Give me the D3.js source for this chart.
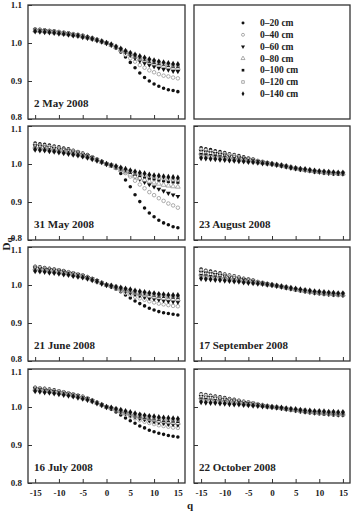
<!DOCTYPE html>
<html>
<head>
<meta charset="utf-8">
<script src="https://cdn.jsdelivr.net/npm/d3@7"></script>
<style>
body { margin: 0; background: #fff; }
svg text { font-family: "Liberation Serif", "Times New Roman", serif; font-weight: bold; fill: #222; }
</style>
</head>
<body>
<script>
// q values (x axis) and depth classes
const qValues = [-15,-14,-13,-12,-11,-10,-9,-8,-7,-6,-5,-4,-3,-2,-1,0,1,2,3,4,5,6,7,8,9,10,11,12,13,14,15];
const depths = ["0\u201320 cm","0\u201340 cm","0\u201360 cm","0\u201380 cm","0\u2013100 cm","0\u2013120 cm","0\u2013140 cm"];
const xTicks = [-15,-10,-5,0,5,10,15];
const yTicks = [0.8,0.9,1.0,1.1];

// Dq values, one row per depth
const may2 = [
  [1.037,1.036,1.035,1.033,1.032,1.030,1.028,1.027,1.024,1.022,1.020,1.017,1.013,1.009,1.004,1.000,0.996,0.987,0.976,0.963,0.949,0.935,0.921,0.909,0.900,0.892,0.886,0.881,0.877,0.875,0.872],
  [1.035,1.034,1.033,1.032,1.030,1.029,1.027,1.025,1.023,1.021,1.019,1.016,1.012,1.008,1.004,1.000,0.994,0.987,0.979,0.969,0.960,0.951,0.942,0.935,0.928,0.923,0.918,0.914,0.912,0.909,0.907],
  [1.034,1.033,1.032,1.031,1.029,1.028,1.026,1.024,1.022,1.020,1.018,1.015,1.012,1.008,1.004,1.000,0.995,0.989,0.983,0.975,0.968,0.960,0.953,0.947,0.942,0.938,0.934,0.931,0.929,0.926,0.925],
  [1.033,1.032,1.031,1.030,1.028,1.027,1.025,1.024,1.022,1.020,1.017,1.015,1.012,1.008,1.004,1.000,0.995,0.989,0.982,0.976,0.970,0.964,0.958,0.954,0.949,0.946,0.943,0.940,0.937,0.935,0.934],
  [1.033,1.032,1.031,1.030,1.028,1.027,1.025,1.024,1.022,1.020,1.017,1.015,1.012,1.008,1.004,1.000,0.995,0.989,0.983,0.977,0.971,0.966,0.961,0.957,0.952,0.949,0.946,0.944,0.941,0.939,0.938],
  [1.032,1.031,1.030,1.029,1.028,1.026,1.025,1.023,1.021,1.019,1.017,1.014,1.011,1.008,1.004,1.000,0.995,0.990,0.984,0.978,0.973,0.968,0.963,0.959,0.955,0.952,0.949,0.946,0.944,0.942,0.941],
  [1.031,1.030,1.029,1.028,1.027,1.025,1.024,1.022,1.020,1.019,1.016,1.014,1.011,1.007,1.004,1.000,0.996,0.990,0.985,0.979,0.974,0.969,0.965,0.961,0.957,0.954,0.951,0.949,0.947,0.945,0.944]
];
const may31 = [
  [1.055,1.053,1.052,1.050,1.047,1.045,1.042,1.040,1.036,1.033,1.029,1.025,1.019,1.013,1.007,1.000,0.997,0.988,0.975,0.958,0.940,0.919,0.901,0.884,0.871,0.861,0.852,0.845,0.840,0.835,0.832],
  [1.051,1.049,1.048,1.046,1.044,1.042,1.039,1.037,1.034,1.031,1.027,1.023,1.018,1.012,1.006,1.000,0.997,0.991,0.984,0.976,0.967,0.956,0.946,0.936,0.926,0.918,0.910,0.903,0.896,0.891,0.885],
  [1.048,1.047,1.045,1.043,1.041,1.039,1.037,1.035,1.032,1.029,1.025,1.022,1.017,1.012,1.006,1.000,0.997,0.993,0.988,0.982,0.975,0.968,0.960,0.952,0.946,0.940,0.934,0.929,0.923,0.919,0.915],
  [1.045,1.044,1.042,1.041,1.039,1.037,1.035,1.032,1.030,1.027,1.024,1.020,1.016,1.011,1.005,1.000,0.995,0.990,0.984,0.978,0.972,0.967,0.962,0.958,0.954,0.951,0.948,0.945,0.943,0.941,0.940],
  [1.042,1.041,1.039,1.038,1.036,1.034,1.032,1.030,1.028,1.025,1.022,1.019,1.015,1.010,1.005,1.000,0.996,0.992,0.987,0.982,0.978,0.974,0.970,0.966,0.963,0.961,0.958,0.956,0.954,0.953,0.952],
  [1.040,1.039,1.038,1.036,1.034,1.033,1.031,1.029,1.026,1.024,1.021,1.018,1.014,1.010,1.005,1.000,0.997,0.993,0.989,0.984,0.981,0.977,0.974,0.971,0.968,0.966,0.963,0.962,0.960,0.959,0.958],
  [1.038,1.037,1.036,1.034,1.033,1.031,1.029,1.027,1.025,1.023,1.020,1.017,1.013,1.009,1.005,1.000,0.997,0.994,0.990,0.987,0.983,0.980,0.977,0.975,0.972,0.970,0.969,0.967,0.966,0.965,0.964]
];
const jun21 = [
  [1.049,1.048,1.046,1.044,1.042,1.040,1.038,1.035,1.032,1.029,1.026,1.022,1.017,1.012,1.006,1.000,0.995,0.989,0.982,0.974,0.966,0.958,0.951,0.945,0.939,0.934,0.930,0.927,0.925,0.923,0.921],
  [1.047,1.046,1.044,1.042,1.040,1.039,1.036,1.034,1.031,1.028,1.025,1.021,1.016,1.011,1.006,1.000,0.996,0.990,0.985,0.979,0.974,0.969,0.965,0.961,0.957,0.954,0.951,0.949,0.947,0.945,0.944],
  [1.045,1.044,1.042,1.041,1.039,1.037,1.035,1.032,1.030,1.027,1.024,1.020,1.016,1.011,1.005,1.000,0.996,0.992,0.988,0.983,0.979,0.975,0.972,0.968,0.965,0.963,0.961,0.959,0.957,0.956,0.955],
  [1.043,1.042,1.040,1.039,1.037,1.035,1.033,1.031,1.028,1.026,1.023,1.019,1.015,1.010,1.005,1.000,0.997,0.994,0.990,0.986,0.983,0.979,0.976,0.973,0.971,0.969,0.967,0.965,0.964,0.963,0.962],
  [1.041,1.040,1.039,1.037,1.035,1.034,1.032,1.030,1.027,1.025,1.022,1.018,1.014,1.010,1.005,1.000,0.997,0.994,0.991,0.988,0.985,0.982,0.979,0.977,0.975,0.973,0.971,0.970,0.969,0.968,0.967],
  [1.039,1.038,1.037,1.035,1.034,1.032,1.030,1.028,1.026,1.023,1.021,1.018,1.014,1.009,1.005,1.000,0.998,0.995,0.992,0.989,0.986,0.983,0.981,0.979,0.977,0.975,0.974,0.973,0.971,0.971,0.970],
  [1.037,1.036,1.035,1.033,1.032,1.030,1.028,1.027,1.024,1.022,1.020,1.017,1.013,1.009,1.004,1.000,0.998,0.995,0.993,0.990,0.988,0.985,0.983,0.981,0.979,0.978,0.976,0.975,0.974,0.973,0.973]
];
const jul16 = [
  [1.052,1.050,1.049,1.047,1.045,1.043,1.040,1.037,1.034,1.031,1.028,1.023,1.018,1.012,1.006,1.000,0.994,0.987,0.979,0.971,0.964,0.957,0.950,0.945,0.939,0.935,0.931,0.928,0.925,0.923,0.921],
  [1.050,1.049,1.047,1.045,1.043,1.041,1.039,1.036,1.033,1.030,1.027,1.023,1.018,1.012,1.006,1.000,0.996,0.991,0.985,0.980,0.975,0.970,0.965,0.961,0.958,0.955,0.952,0.950,0.948,0.946,0.945],
  [1.048,1.047,1.045,1.043,1.041,1.039,1.037,1.035,1.032,1.029,1.025,1.022,1.017,1.012,1.006,1.000,0.996,0.992,0.987,0.983,0.978,0.974,0.970,0.967,0.964,0.961,0.959,0.957,0.955,0.954,0.953],
  [1.047,1.046,1.044,1.042,1.040,1.039,1.036,1.034,1.031,1.028,1.025,1.021,1.016,1.011,1.006,1.000,0.997,0.993,0.989,0.984,0.981,0.977,0.974,0.971,0.968,0.966,0.963,0.962,0.960,0.959,0.958],
  [1.046,1.045,1.043,1.041,1.040,1.038,1.035,1.033,1.030,1.028,1.024,1.021,1.016,1.011,1.006,1.000,0.997,0.994,0.990,0.986,0.983,0.979,0.976,0.973,0.971,0.969,0.967,0.965,0.964,0.963,0.962],
  [1.044,1.043,1.041,1.040,1.038,1.036,1.034,1.032,1.029,1.026,1.023,1.020,1.015,1.011,1.005,1.000,0.997,0.994,0.991,0.987,0.984,0.981,0.979,0.976,0.974,0.972,0.970,0.969,0.968,0.967,0.966],
  [1.042,1.041,1.039,1.038,1.036,1.034,1.032,1.030,1.028,1.025,1.022,1.019,1.015,1.010,1.005,1.000,0.998,0.995,0.992,0.989,0.986,0.983,0.980,0.978,0.976,0.975,0.973,0.972,0.971,0.970,0.969]
];
const aug23 = [
  [1.043,1.040,1.038,1.035,1.033,1.030,1.027,1.025,1.022,1.019,1.016,1.013,1.009,1.006,1.003,1.000,0.998,0.995,0.993,0.990,0.988,0.985,0.983,0.981,0.979,0.978,0.976,0.975,0.974,0.973,0.973],
  [1.038,1.036,1.033,1.031,1.029,1.027,1.024,1.022,1.019,1.016,1.014,1.011,1.008,1.006,1.003,1.000,0.998,0.996,0.993,0.990,0.988,0.986,0.984,0.982,0.980,0.979,0.977,0.976,0.975,0.975,0.974],
  [1.034,1.032,1.030,1.028,1.026,1.024,1.021,1.019,1.017,1.015,1.013,1.010,1.007,1.005,1.002,1.000,0.998,0.996,0.993,0.990,0.988,0.986,0.984,0.982,0.980,0.979,0.977,0.976,0.975,0.975,0.974],
  [1.029,1.027,1.026,1.024,1.022,1.020,1.018,1.017,1.015,1.012,1.011,1.009,1.006,1.004,1.002,1.000,0.998,0.996,0.993,0.991,0.988,0.986,0.984,0.982,0.981,0.979,0.978,0.977,0.976,0.975,0.975],
  [1.025,1.024,1.022,1.021,1.019,1.018,1.016,1.014,1.013,1.011,1.009,1.008,1.006,1.004,1.002,1.000,0.998,0.996,0.994,0.991,0.989,0.987,0.985,0.983,0.982,0.980,0.979,0.978,0.977,0.976,0.976],
  [1.020,1.019,1.018,1.016,1.015,1.014,1.013,1.011,1.010,1.009,1.007,1.006,1.004,1.003,1.001,1.000,0.998,0.996,0.994,0.991,0.989,0.987,0.985,0.983,0.982,0.980,0.979,0.978,0.977,0.976,0.976],
  [1.016,1.015,1.014,1.013,1.012,1.011,1.010,1.009,1.008,1.007,1.006,1.005,1.004,1.002,1.001,1.000,0.998,0.996,0.994,0.991,0.989,0.987,0.986,0.984,0.982,0.981,0.980,0.979,0.978,0.977,0.977]
];
const sep17 = [
  [1.042,1.039,1.037,1.034,1.032,1.029,1.026,1.024,1.021,1.018,1.016,1.013,1.009,1.006,1.003,1.000,0.998,0.995,0.992,0.990,0.987,0.985,0.982,0.980,0.978,0.977,0.976,0.975,0.973,0.973,0.972],
  [1.038,1.036,1.033,1.031,1.029,1.027,1.024,1.022,1.019,1.016,1.014,1.011,1.008,1.006,1.003,1.000,0.998,0.995,0.993,0.990,0.988,0.985,0.983,0.981,0.979,0.978,0.976,0.975,0.974,0.973,0.973],
  [1.034,1.032,1.030,1.028,1.026,1.024,1.021,1.019,1.017,1.015,1.013,1.010,1.007,1.005,1.002,1.000,0.998,0.996,0.993,0.990,0.988,0.986,0.984,0.982,0.980,0.979,0.977,0.976,0.975,0.975,0.974],
  [1.029,1.027,1.026,1.024,1.022,1.020,1.018,1.017,1.015,1.012,1.011,1.009,1.006,1.004,1.002,1.000,0.998,0.996,0.993,0.991,0.988,0.986,0.984,0.982,0.981,0.979,0.978,0.977,0.976,0.975,0.975],
  [1.025,1.024,1.022,1.021,1.019,1.018,1.016,1.014,1.013,1.011,1.009,1.008,1.006,1.004,1.002,1.000,0.998,0.996,0.994,0.991,0.989,0.987,0.985,0.983,0.982,0.980,0.979,0.978,0.977,0.976,0.976],
  [1.021,1.020,1.018,1.017,1.016,1.015,1.013,1.012,1.011,1.009,1.008,1.006,1.005,1.003,1.001,1.000,0.998,0.996,0.994,0.991,0.989,0.987,0.986,0.984,0.982,0.981,0.980,0.979,0.978,0.977,0.977],
  [1.017,1.016,1.015,1.014,1.013,1.012,1.011,1.010,1.009,1.007,1.006,1.005,1.004,1.003,1.001,1.000,0.998,0.996,0.994,0.992,0.990,0.988,0.986,0.985,0.983,0.982,0.981,0.980,0.979,0.978,0.978]
];
const oct22 = [
  [1.035,1.033,1.031,1.029,1.027,1.025,1.022,1.020,1.018,1.015,1.013,1.011,1.008,1.005,1.002,1.000,0.998,0.996,0.994,0.992,0.990,0.988,0.986,0.985,0.983,0.982,0.981,0.980,0.979,0.978,0.978],
  [1.032,1.030,1.028,1.026,1.024,1.022,1.020,1.018,1.016,1.014,1.012,1.010,1.007,1.005,1.002,1.000,0.998,0.996,0.994,0.992,0.990,0.988,0.987,0.985,0.984,0.983,0.982,0.981,0.980,0.979,0.979],
  [1.028,1.026,1.025,1.023,1.021,1.020,1.018,1.016,1.014,1.012,1.010,1.008,1.006,1.004,1.002,1.000,0.998,0.997,0.995,0.993,0.991,0.989,0.987,0.986,0.985,0.984,0.983,0.982,0.981,0.980,0.980],
  [1.025,1.024,1.022,1.021,1.019,1.018,1.016,1.014,1.013,1.011,1.009,1.008,1.006,1.004,1.002,1.000,0.999,0.997,0.995,0.993,0.992,0.990,0.989,0.987,0.986,0.985,0.984,0.984,0.983,0.982,0.982],
  [1.021,1.020,1.018,1.017,1.016,1.015,1.013,1.012,1.011,1.009,1.008,1.006,1.005,1.003,1.001,1.000,0.999,0.997,0.995,0.994,0.992,0.991,0.989,0.988,0.987,0.986,0.985,0.985,0.984,0.983,0.983],
  [1.017,1.016,1.015,1.014,1.013,1.012,1.011,1.010,1.009,1.007,1.006,1.005,1.004,1.003,1.001,1.000,0.999,0.997,0.996,0.994,0.993,0.992,0.991,0.989,0.988,0.988,0.987,0.986,0.986,0.985,0.985],
  [1.013,1.012,1.011,1.011,1.010,1.009,1.008,1.007,1.007,1.006,1.005,1.004,1.003,1.002,1.001,1.000,0.999,0.998,0.996,0.995,0.994,0.992,0.991,0.990,0.989,0.989,0.988,0.987,0.987,0.986,0.986]
];

const panels = [
  {label: "2 May 2008", col: 0, row: 0, data: may2},
  {label: "31 May 2008", col: 0, row: 1, data: may31},
  {label: "21 June 2008", col: 0, row: 2, data: jun21},
  {label: "16 July 2008", col: 0, row: 3, data: jul16},
  {label: "23 August 2008", col: 1, row: 1, data: aug23},
  {label: "17 September 2008", col: 1, row: 2, data: sep17},
  {label: "22 October 2008", col: 1, row: 3, data: oct22}
];

// layout
var width = 355, height = 518;
var colX = [[28, 185], [194, 350]];
var rowTop = [5, 126, 247, 369];
var ph = 114;

// marker style per depth
var markers = [
  {type: d3.symbolCircle, filled: true, rot: 0},
  {type: d3.symbolCircle, filled: false, rot: 0},
  {type: d3.symbolTriangle, filled: true, rot: 180},
  {type: d3.symbolTriangle, filled: false, rot: 0},
  {type: d3.symbolSquare, filled: true, rot: 0},
  {type: d3.symbolSquare, filled: false, rot: 0},
  {type: d3.symbolDiamond, filled: true, rot: 0}
];

function styleMarker(sel, m) {
  sel.attr("fill", m.filled ? "#111" : "#fff")
     .attr("stroke", m.filled ? "none" : "#8a8a8a")
     .attr("stroke-width", 0.7);
}

var svg = d3.select("body").append("svg")
  .attr("width", width)
  .attr("height", height);

panels.forEach(function(p) {
  var x0 = colX[p.col][0], pw = colX[p.col][1] - x0;
  var g = svg.append("g").attr("transform", "translate(" + x0 + "," + rowTop[p.row] + ")");

  var x = d3.scaleLinear().domain([-16.5, 16.5]).range([0, pw]);
  var y = d3.scaleLinear().domain([0.8, 1.1]).range([ph, 0]);

  // points, one group per depth
  p.data.forEach(function(series, i) {
    var m = markers[i];
    var sym = d3.symbol().type(m.type).size(m.type === d3.symbolDiamond ? 12 : 10);
    g.append("g").selectAll("path")
      .data(series)
      .enter().append("path")
      .attr("d", sym)
      .attr("transform", function(d, j) {
        return "translate(" + x(qValues[j]) + "," + y(d) + ") rotate(" + m.rot + ")";
      })
      .call(styleMarker, m);
  });

  // bottom axis, ticks inward
  var xa = g.append("g")
    .attr("transform", "translate(0," + ph + ")")
    .call(d3.axisBottom(x).tickValues(xTicks).tickSize(-4).tickPadding(7)
      .tickFormat(p.row === 3 ? function(d) { return String(d); } : function() { return ""; }));
  xa.select(".domain").remove();

  // left axis, ticks inward
  var ya = g.append("g")
    .call(d3.axisLeft(y).tickValues(yTicks).tickSize(-4).tickPadding(6)
      .tickFormat(p.col === 0 ? d3.format(".1f") : function() { return ""; }));
  ya.select(".domain").remove();
  // stacked 0.8 / 1.1 labels between panels sit a little apart
  ya.selectAll(".tick text").attr("dy", function(d) {
    if (d === 0.8 && p.row < 3) return "0.05em";
    if (d === 1.1 && p.row > 0) return "0.62em";
    return "0.32em";
  });

  g.selectAll(".tick line").attr("stroke", "#333").attr("stroke-width", 1);
  g.selectAll(".tick text").style("font-size", "9px");

  // frame
  g.append("rect")
    .attr("width", pw).attr("height", ph)
    .attr("fill", "none").attr("stroke", "#333").attr("stroke-width", 1.3);

  g.append("text")
    .attr("x", p.col === 0 ? 6 : 5)
    .attr("y", ph - 12)
    .style("font-size", "11px")
    .text(p.label);
});

// legend box
var lg = svg.append("g").attr("transform", "translate(" + colX[1][0] + "," + rowTop[0] + ")");
lg.append("rect")
  .attr("width", colX[1][1] - colX[1][0]).attr("height", ph)
  .attr("fill", "none").attr("stroke", "#333").attr("stroke-width", 1.3);

depths.forEach(function(name, i) {
  var m = markers[i];
  var ly = 18 + i * 11.8;
  lg.append("path")
    .attr("d", d3.symbol().type(m.type).size(7))
    .attr("transform", "translate(49," + ly + ") rotate(" + m.rot + ")")
    .call(styleMarker, m);
  lg.append("text")
    .attr("x", 66).attr("y", ly)
    .attr("dy", "0.33em")
    .style("font-size", "9.5px")
    .text(name);
});

// axis titles
var yt = svg.append("text")
  .attr("transform", "translate(10,244) rotate(-90)")
  .attr("text-anchor", "middle")
  .style("font-size", "11px");
yt.append("tspan").text("D");
yt.append("tspan").attr("dy", "2").style("font-size", "9px").text("q");

svg.append("text")
  .attr("x", 190).attr("y", 509)
  .attr("text-anchor", "middle")
  .style("font-size", "11px")
  .text("q");
</script>
</body>
</html>
